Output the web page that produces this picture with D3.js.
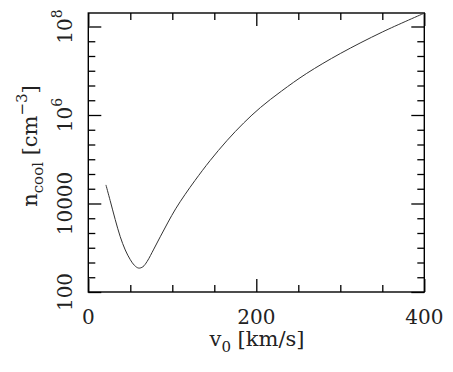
<!DOCTYPE html>
<html>
<head>
<meta charset="utf-8">
<script src="https://cdn.jsdelivr.net/npm/d3@7"></script>
<style>
  body { margin: 0; background: #fff; }
  svg text { font-family: "DejaVu Serif", "Liberation Serif", serif; fill: #222; }
</style>
</head>
<body>
<svg id="chart"></svg>
<script>
// cooling density vs circular velocity
var v0 = [21, 26, 32, 38, 44, 50, 55, 60, 65, 70, 78, 86, 95, 104, 115, 127, 145, 165, 185, 205, 230, 260, 300, 350, 400]
var nCool = [26300, 11700, 4370, 1780, 891, 537, 398, 347, 372, 490, 933, 1820, 3800, 7590, 15800, 33100, 93300, 263000, 661000, 1480000, 3470000, 8710000, 24500000, 75000000, 200000000]

var xMajorTicks = [0, 200, 400]
var xMinorTicks = [50, 100, 150, 250, 300, 350]
var xTickLabels = ["0", "200", "400"]
var yMajorTicks = [100, 1e4, 1e6, 1e8]
var yTickLabels = [["100", ""], ["10000", ""], ["10", "6"], ["10", "8"]]

var dimensions = {
    width: 453,
    height: 372,
    margin: { top: 13, bottom: 80, right: 28.7, left: 88.3 }
}
dimensions.boundedWidth = dimensions.width - dimensions.margin.left - dimensions.margin.right
dimensions.boundedHeight = dimensions.height - dimensions.margin.top - dimensions.margin.bottom

var svg = d3.select("#chart")
    .attr("width", dimensions.width)
    .attr("height", dimensions.height)

var g = svg.append("g")
    .attr("transform", "translate(" + dimensions.margin.left + "," + dimensions.margin.top + ")")

var xScale = d3.scaleLinear()
    .domain([0, 400])
    .range([0, dimensions.boundedWidth])

var yScale = d3.scaleLog()
    .domain([100, Math.pow(10, 8.305)])
    .range([dimensions.boundedHeight, 0])

// minor y ticks every third of a decade
var yMinorTicks = []
for (var k = 1; k < 19; k++) {
    if (k % 6 != 0) yMinorTicks.push(Math.pow(10, 2 + k / 3))
}

var axes = [
    [d3.axisBottom, xScale, "translate(0," + dimensions.boundedHeight + ")", xMajorTicks, xMinorTicks],
    [d3.axisTop, xScale, "translate(0,0)", xMajorTicks, xMinorTicks],
    [d3.axisLeft, yScale, "translate(0,0)", yMajorTicks, yMinorTicks],
    [d3.axisRight, yScale, "translate(" + dimensions.boundedWidth + ",0)", yMajorTicks, yMinorTicks]
]
axes.forEach(function (a) {
    g.append("g").attr("transform", a[2])
        .call(a[0](a[1]).tickValues(a[3]).tickSize(-13).tickFormat(""))
    g.append("g").attr("transform", a[2])
        .call(a[0](a[1]).tickValues(a[4]).tickSize(-7).tickFormat(""))
})
g.selectAll(".domain").remove()
g.selectAll(".tick line").attr("stroke", "#000").attr("stroke-width", 1.3)

// frame
g.append("rect")
    .attr("width", dimensions.boundedWidth)
    .attr("height", dimensions.boundedHeight)
    .attr("fill", "none")
    .attr("stroke", "#000")
    .attr("stroke-width", 1.4)

// curve
var line = d3.line()
    .x(function (d, i) { return xScale(v0[i]) })
    .y(function (d, i) { return yScale(nCool[i]) })
    .curve(d3.curveCatmullRom.alpha(0.5))

g.append("path")
    .datum(v0)
    .attr("d", line)
    .attr("fill", "none")
    .attr("stroke", "#333")
    .attr("stroke-width", 1)

// x tick labels
g.selectAll(".xlab")
    .data(xMajorTicks)
    .enter()
    .append("text")
    .attr("x", function (d) { return xScale(d) })
    .attr("y", dimensions.boundedHeight + 32)
    .attr("text-anchor", "middle")
    .style("font-size", "20px")
    .text(function (d, i) { return xTickLabels[i] })

// y tick labels, rotated
yMajorTicks.forEach(function (d, i) {
    var t = g.append("text")
        .attr("transform", "translate(-16," + yScale(d) + ") rotate(-90)")
        .attr("text-anchor", "middle")
        .style("font-size", "20px")
    t.append("tspan").text(yTickLabels[i][0])
    if (yTickLabels[i][1] != "") {
        t.append("tspan").attr("dy", -10).style("font-size", "14px").text(yTickLabels[i][1])
    }
})

// axis titles
var xt = svg.append("text")
    .attr("x", 257)
    .attr("y", 346)
    .attr("text-anchor", "middle")
    .style("font-size", "21px")
xt.append("tspan").text("v")
xt.append("tspan").attr("dy", 6).style("font-size", "15px").text("0")
xt.append("tspan").attr("dy", -6).text(" [km/s]")

var yt = svg.append("text")
    .attr("transform", "translate(37,146) rotate(-90)")
    .attr("text-anchor", "middle")
    .style("font-size", "21px")
yt.append("tspan").text("n")
yt.append("tspan").attr("dy", 6).style("font-size", "15px").text("cool")
yt.append("tspan").attr("dy", -6).text(" [cm")
yt.append("tspan").attr("dy", -10).style("font-size", "15px").text("\u22123")
yt.append("tspan").attr("dy", 10).text("]")
</script>
</body>
</html>
